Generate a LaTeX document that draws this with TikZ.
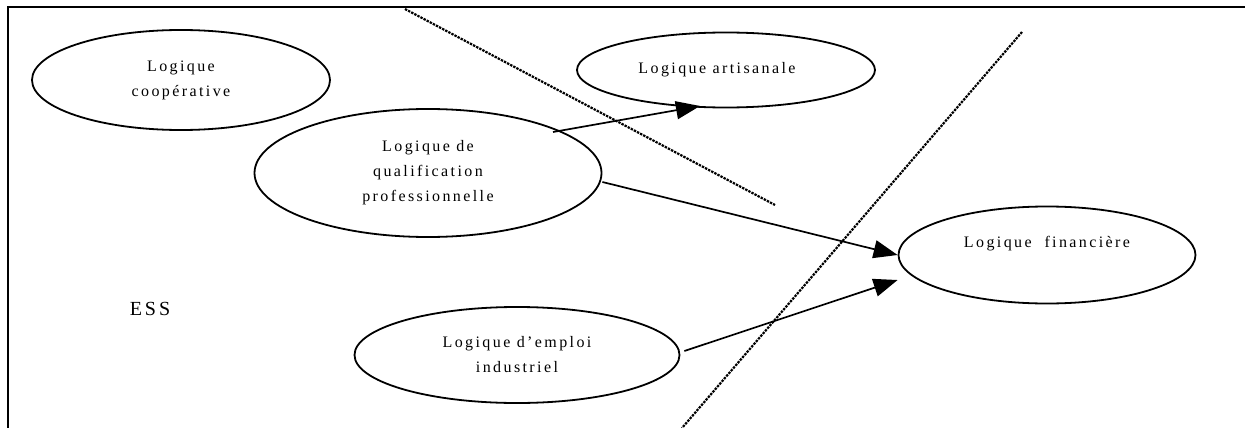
\documentclass[tikz,border=0pt]{standalone}
\usepackage{fontspec}
\setmainfont[LetterSpace=15]{Liberation Serif}
\usetikzlibrary{shapes.geometric,arrows.meta}
\tikzset{
  logic/.style={ellipse, draw, line width=1.8pt, inner sep=0pt, align=center,
    font=\fontsize{16}{25}\selectfont},
  logictext/.style={font=\fontsize{16}{25}\selectfont, inner sep=0pt},
  link/.style={line width=1.7pt, -{Triangle[length=24pt,width=18pt]}},
  divider/.style={line width=2.2pt, dash pattern=on 2.4pt off 1.1pt},
  frameline/.style={line width=2.2pt}
}
\begin{document}
\begin{tikzpicture}[x=1pt,y=-1pt]
\useasboundingbox (0,0) rectangle (1245,428);
% frame
\draw[frameline] (8,428) -- (8,7) -- (1245,7);
% nodes
\node[logic, minimum width=298pt, minimum height=100pt] (coop) at (181,80) {Logique\\coopérative};
\node[logic, minimum width=298pt, minimum height=75pt] (artis) at (726,70) {Logique artisanale\hspace*{18pt}};
\node[logic, minimum width=347pt, minimum height=128pt] (qual) at (428,173) {Logique de\\qualification\\professionnelle};
\node[logic, minimum width=297pt, minimum height=97pt,
      label={[logictext, yshift=11pt]center:Logique\ \ financière}] (fin) at (1047,255) {};
\node[logic, minimum width=325pt, minimum height=96pt] (emp) at (517,355) {Logique d’emploi\\industriel};
\node[font=\fontsize{20}{24}\selectfont] (ess) at (150,309) {ESS};
% dotted dividers
\coordinate (d1a) at (405,9);
\coordinate (d1b) at (775,205);
\coordinate (d2a) at (1022,32);
\coordinate (d2b) at (682,428);
\draw[divider] (d1a) -- (d1b);
\draw[divider] (d2a) -- (d2b);
% connector end points
\coordinate (a1s) at ([shift={(125,-41)}]qual.center);
\coordinate (a1e) at ([shift={(-26,36)}]artis.center);
\coordinate (a2s) at ([shift={(0,9)}]qual.east);
\coordinate (a3s) at ([shift={(4,-4)}]emp.east);
\coordinate (a3e) at ([shift={(0,25)}]fin.west);
\draw[link] (a1s) -- (a1e);
\draw[link] (a2s) -- (fin.west);
\draw[link] (a3s) -- (a3e);
\end{tikzpicture}
\end{document}
